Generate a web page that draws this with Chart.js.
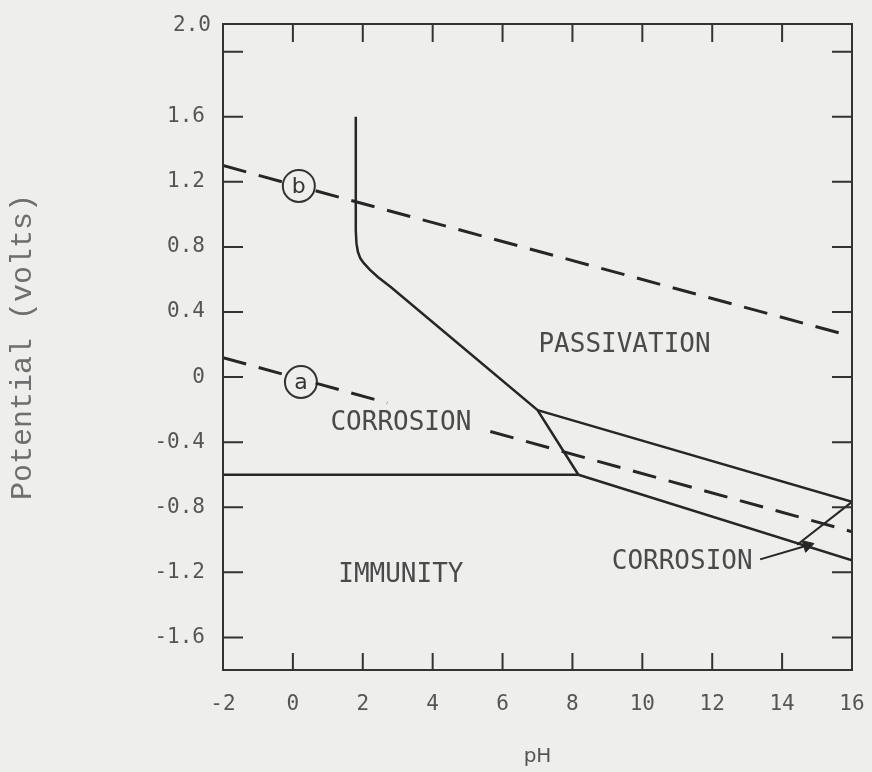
<!DOCTYPE html>
<html>
<head>
<meta charset="utf-8">
<script src="https://cdn.jsdelivr.net/npm/chart.js@4.4.1/dist/chart.umd.min.js"></script>
<style>
  html, body { margin: 0; padding: 0; background: #eeeeec; }
  #wrap { width: 872px; height: 772px; position: relative; }
</style>
</head>
<body>
<div id="wrap"><canvas id="c"></canvas></div>
<script>
// ---- axis ticks ----
const phTicks = [-2, 0, 2, 4, 6, 8, 10, 12, 14, 16];
const phTickLabels = ['-2', '0', '2', '4', '6', '8', '10', '12', '14', '16'];
const potentialTicks = [-1.6, -1.2, -0.8, -0.4, 0, 0.4, 0.8, 1.2, 1.6, 2.0];
const potentialTickLabels = ['-1.6', '-1.2', '-0.8', '-0.4', '0', '0.4', '0.8', '1.2', '1.6', '2.0'];

// ---- boundary lines (pH, potential in volts) ----
// Fe / Fe2+ / oxide boundary: vertical part, knee, then down to the lower junction
const ironBoundaryPH = [1.80, 1.80, 1.80, 1.82, 1.86, 1.93, 2.03, 2.20, 2.43, 2.80, 7.00, 8.17];
const ironBoundaryE  = [1.60, 1.00, 0.90, 0.82, 0.77, 0.73, 0.70, 0.66, 0.615, 0.554, -0.203, -0.60];

// Immunity limit (horizontal)
const immunityPH = [-2, 8.17];
const immunityE  = [-0.60, -0.60];

// Upper and lower lines of the alkaline band
const upperBandPH = [7.00, 16];
const upperBandE  = [-0.203, -0.767];
const lowerBandPH = [8.17, 16];
const lowerBandE  = [-0.60, -1.126];

// Short boundary closing the alkaline corrosion wedge
const wedgePH = [14.43, 16];
const wedgeE  = [-1.03, -0.767];

// Water stability lines, broken where the labels sit
const lineAPH = [-2, -0.30, null, 0.65, 2.70, null, 5.65, 16];
const lineAE  = [0.12, 0.019, null, -0.037, -0.159, null, -0.334, -0.95];
const lineBPH = [-2, -0.30, null, 0.65, 16];
const lineBE  = [1.30, 1.20, null, 1.145, 0.25];

// Circled line labels
const lineTagText = ['b', 'a'];
const lineTagPH   = [0.17, 0.23];
const lineTagE    = [1.175, -0.03];

// Region names
const regionNames = ['PASSIVATION', 'CORROSION', 'IMMUNITY', 'CORROSION'];
const regionPH    = [9.49, 3.09, 3.09, 11.14];
const regionE     = [0.194, -0.283, -1.218, -1.138];

// Pointer from the lower CORROSION label into the wedge
const arrowPH = [13.37, 14.72];
const arrowE  = [-1.12, -1.035];

const INK = '#262626';
const TEXT = '#4a4a4a';

function pts(ph, e) {
  return ph.map((x, i) => (x === null ? { x: null, y: null } : { x: x, y: e[i] }));
}
function lineSet(ph, e, extra) {
  return Object.assign({
    data: pts(ph, e),
    showLine: true,
    pointRadius: 0,
    pointHoverRadius: 0,
    borderColor: INK,
    borderWidth: 2.5,
    tension: 0,
    spanGaps: false,
    fill: false
  }, extra || {});
}

// Frame, inward tick marks, labels written on the plot
const decor = {
  id: 'decor',
  afterDatasetsDraw(chart) {
    const { ctx, chartArea: a, scales: { x, y } } = chart;
    ctx.save();
    ctx.strokeStyle = '#333';
    ctx.lineWidth = 2;
    ctx.strokeRect(a.left, a.top, a.right - a.left, a.bottom - a.top);

    ctx.beginPath();
    phTicks.forEach(v => {
      if (v <= x.min || v >= x.max) return;
      const px = x.getPixelForValue(v);
      ctx.moveTo(px, a.bottom); ctx.lineTo(px, a.bottom - 17);
      ctx.moveTo(px, a.top);    ctx.lineTo(px, a.top + 18);
    });
    potentialTicks.forEach(v => {
      const py = y.getPixelForValue(v);
      ctx.moveTo(a.left, py);  ctx.lineTo(a.left + 20, py);
      ctx.moveTo(a.right, py); ctx.lineTo(a.right - 20, py);
    });
    ctx.stroke();

    // top value label sits at the upper corner of the frame
    ctx.fillStyle = '#555';
    ctx.font = '21px "DejaVu Sans Mono"';
    ctx.textAlign = 'right';
    ctx.textBaseline = 'middle';
    ctx.fillText(potentialTickLabels[potentialTickLabels.length - 1], a.left - 12, a.top + 2);

    // region names
    ctx.fillStyle = TEXT;
    ctx.font = '26px "DejaVu Sans Mono"';
    ctx.textAlign = 'center';
    regionNames.forEach((t, i) => {
      ctx.fillText(t, x.getPixelForValue(regionPH[i]), y.getPixelForValue(regionE[i]));
    });

    // letters inside the circled tags
    ctx.fillStyle = '#333';
    ctx.font = '22px "DejaVu Sans"';
    lineTagText.forEach((t, i) => {
      ctx.fillText(t, x.getPixelForValue(lineTagPH[i]), y.getPixelForValue(lineTagE[i]) + 1);
    });
    ctx.restore();
  }
};

const tickFont = { family: '"DejaVu Sans Mono"', size: 21 };

new Chart(document.getElementById('c'), {
  type: 'scatter',
  data: {
    datasets: [
      lineSet(ironBoundaryPH, ironBoundaryE),
      lineSet(immunityPH, immunityE),
      lineSet(upperBandPH, upperBandE),
      lineSet(lowerBandPH, lowerBandE),
      lineSet(wedgePH, wedgeE, { borderWidth: 2 }),
      lineSet(lineAPH, lineAE, { borderWidth: 3, borderDash: [24, 13] }),
      lineSet(lineBPH, lineBE, { borderWidth: 3, borderDash: [24, 13] }),
      {
        data: pts(lineTagPH, lineTagE),
        showLine: false,
        pointStyle: 'circle',
        pointRadius: 16,
        pointHoverRadius: 16,
        pointBorderWidth: 2,
        pointBorderColor: '#333',
        pointBackgroundColor: 'rgba(0,0,0,0)'
      },
      lineSet(arrowPH, arrowE, {
        borderWidth: 2,
        pointStyle: 'triangle',
        pointRadius: [0, 7],
        pointHoverRadius: [0, 7],
        pointBackgroundColor: INK,
        pointBorderColor: INK,
        pointBorderWidth: 1,
        pointRotation: (c) => {
          const ch = c.chart, sx = ch.scales.x, sy = ch.scales.y;
          if (!sx || !sy) return 0;
          const dx = sx.getPixelForValue(arrowPH[1]) - sx.getPixelForValue(arrowPH[0]);
          const dy = sy.getPixelForValue(arrowE[1]) - sy.getPixelForValue(arrowE[0]);
          return Math.atan2(dy, dx) * 180 / Math.PI + 90;
        }
      })
    ]
  },
  options: {
    responsive: true,
    maintainAspectRatio: false,
    animation: false,
    events: [],
    layout: { padding: { top: 24, right: 20, bottom: 0, left: 0 } },
    plugins: { legend: { display: false }, tooltip: { enabled: false } },
    scales: {
      x: {
        type: 'linear',
        position: 'bottom',
        min: -2,
        max: 16,
        afterBuildTicks: s => { s.ticks = phTicks.map(v => ({ value: v })); },
        afterFit: s => { s.height = 102; s.paddingLeft = 0; s.paddingRight = 0; },
        grid: { display: false, drawTicks: false },
        border: { display: false },
        ticks: {
          font: tickFont,
          color: '#555',
          padding: 22,
          autoSkip: false,
          maxRotation: 0,
          callback: (v) => {
            const i = phTicks.findIndex(t => Math.abs(t - v) < 1e-6);
            return i >= 0 ? phTickLabels[i] : '';
          }
        },
        title: {
          display: true,
          text: 'pH',
          color: '#555',
          font: { family: '"DejaVu Sans"', size: 20 },
          padding: { top: 0, bottom: 3 }
        }
      },
      y: {
        type: 'linear',
        position: 'left',
        min: -1.8,
        max: 2.17,
        afterBuildTicks: s => { s.ticks = potentialTicks.map(v => ({ value: v })); },
        afterFit: s => { s.width = 223; s.paddingTop = 0; s.paddingBottom = 0; },
        grid: { display: false, drawTicks: false },
        border: { display: false },
        ticks: {
          font: tickFont,
          color: '#555',
          padding: 18,
          autoSkip: false,
          callback: (v) => {
            const i = potentialTicks.findIndex(t => Math.abs(t - v) < 1e-6);
            // the top label is written at the frame corner by the decor plugin
            if (i < 0 || i === potentialTicks.length - 1) return '';
            return potentialTickLabels[i];
          }
        },
        title: {
          display: true,
          text: 'Potential (volts)',
          color: '#6e6e6e',
          font: { family: '"Liberation Mono"', size: 30 },
          padding: { top: 5, bottom: 0 }
        }
      }
    }
  },
  plugins: [decor]
});
</script>
</body>
</html>
